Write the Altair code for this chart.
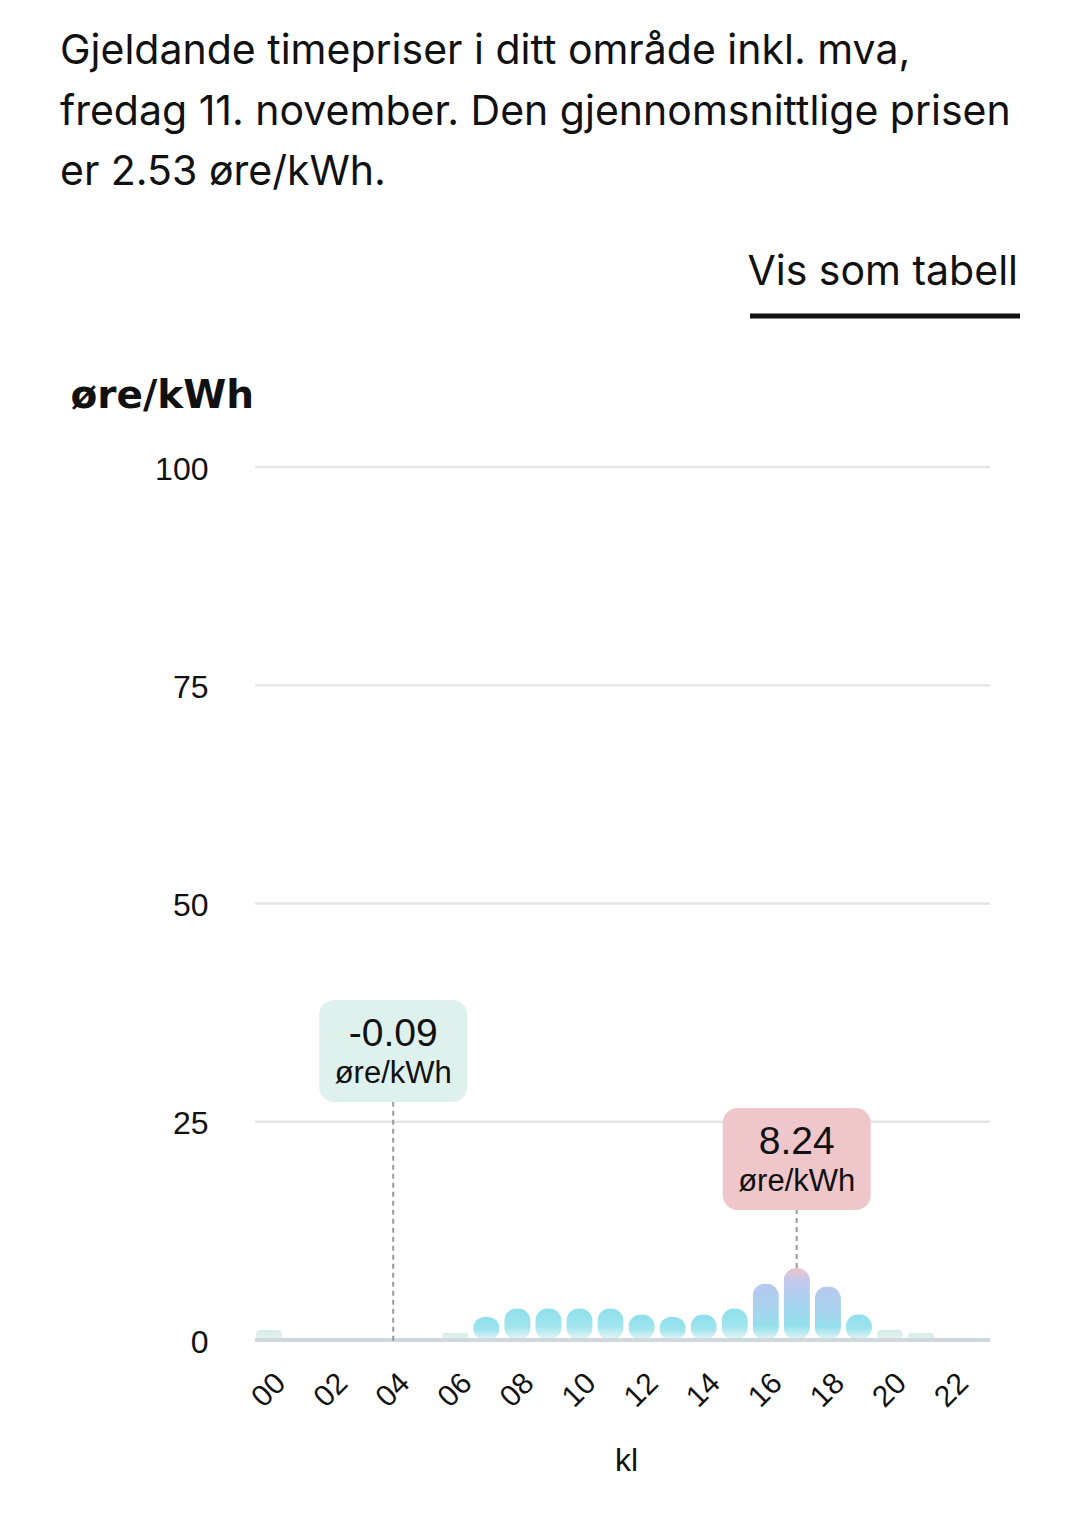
import altair as alt
import pandas as pd

hours = [f"{h:02d}" for h in range(24)]
prices = [1.18, 0.0, 0.0, 0.0, -0.09, 0.0, 0.86, 2.63, 3.65, 3.65, 3.65, 3.65,
          2.94, 2.63, 2.94, 3.65, 6.47, 8.24, 6.16, 2.94, 1.18, 0.86, 0.0, 0.0]
x_tick_labels = ["00", "02", "04", "06", "08", "10", "12", "14", "16", "18", "20", "22"]
y_ticks = [0, 25, 50, 75, 100]
title_lines = [
    "Gjeldande timepriser i ditt område inkl. mva,",
    "fredag 11. november. Den gjennomsnittlige prisen",
    "er 2.53 øre/kWh.",
]
unit = "øre/kWh"
link_text = "Vis som tabell"

W, H = 735, 873
df = pd.DataFrame({"kl": hours, "pris": prices})

imin = prices.index(min(prices))
imax = prices.index(max(prices))
ann = pd.DataFrame({
    "kl": [hours[imin], hours[imax]],
    "pris": [prices[imin], prices[imax]],
    "txt": [f"{prices[imin]:.2f}", f"{prices[imax]:.2f}"],
    "kind": ["min", "max"],
})

xscale = alt.Scale(domain=hours, range=[-1.5, 743.5], paddingInner=0.15, paddingOuter=0.075)
yscale = alt.Scale(domain=[0, 100])

X = alt.X("kl:N", scale=xscale, sort=hours,
          axis=alt.Axis(values=x_tick_labels, labelAngle=315, labelAlign="center",
                        labelBaseline="middle", labelPadding=50, labelFontSize=30,
                        labelFont="Liberation Sans", labelColor="#111", ticks=False,
                        domain=False, grid=False,
                        title="kl", titleFont="Liberation Sans", titleFontSize=32,
                        titleFontWeight="normal", titleColor="#111", titleY=120,
                        titleBaseline="middle"))
y_axis = alt.Axis(values=y_ticks, labelFontSize=32, labelFont="Liberation Sans",
                  labelColor="#111", labelPadding=47, ticks=False, domain=False,
                  grid=False, labelBaseline="middle", labelOffset=2,
                  title=unit, titleAngle=0, titleAlign="left", titleBaseline="middle",
                  titleX=-185, titleY=-72, titleFont="DejaVu Sans",
                  titleFontSize=39, titleFontWeight="bold", titleColor="#111")
Y = alt.Y("pris:Q", scale=yscale, axis=y_axis)

def grad(stops):
    return alt.Gradient(gradient="linear", x1=0, x2=0, y1=0, y2=1,
                        stops=[alt.GradientStop(offset=o, color=c) for o, c in stops])

grid = alt.Chart(pd.DataFrame({"v": y_ticks})).mark_rule(color="#e6e6e6", strokeWidth=2.5).encode(
    y=alt.Y("v:Q", scale=yscale, axis=y_axis), x=alt.value(0), x2=alt.value(W))

base = alt.Chart(df).transform_joinaggregate(maks="max(pris)")

bar_kw = dict(cornerRadius=13)
pale = base.transform_filter("datum.pris > 0 && datum.pris < 2").mark_bar(
    color=grad([(0, "#d6ece8"), (1, "#e4f3f1")]), **bar_kw).encode(x=X, y=Y)
cyan = base.transform_filter("datum.pris >= 2 && datum.pris < 5").mark_bar(
    color=grad([(0, "#8edfec"), (0.55, "#9fe4ee"), (1, "#e6f5f4")]), **bar_kw).encode(x=X, y=Y)
blue = base.transform_filter("datum.pris >= 5 && datum.pris < datum.maks").mark_bar(
    color=grad([(0, "#b7c8ee"), (0.5, "#a6d5ee"), (0.75, "#93e0ec"), (1, "#e6f5f4")]), **bar_kw).encode(x=X, y=Y)
peak = base.transform_filter("datum.pris == datum.maks").mark_bar(
    color=grad([(0, "#eac3cd"), (0.2, "#bfc9ee"), (0.55, "#a2d6ee"), (0.8, "#94e0ec"), (1, "#e6f5f4")]),
    **bar_kw).encode(x=X, y=Y)

baseline = alt.Chart(pd.DataFrame({"v": [0]})).mark_rule(color="#cfd8dc", strokeWidth=4).encode(
    y=alt.Y("v:Q", scale=yscale, axis=y_axis), x=alt.value(0), x2=alt.value(W))

annb = alt.Chart(ann)
rule_min = annb.transform_filter("datum.kind == 'min'").mark_rule(
    color="#9a9a9a", strokeDash=[5, 4], strokeWidth=2).encode(x=X, y=Y, y2=alt.value(635))
rule_max = annb.transform_filter("datum.kind == 'max'").mark_rule(
    color="#9a9a9a", strokeDash=[5, 4], strokeWidth=2).encode(x=X, y=Y, y2=alt.value(743))
box_min = annb.transform_filter("datum.kind == 'min'").mark_rect(
    color="#dff1ec", cornerRadius=15, width=148).encode(x=X, y=alt.value(533), y2=alt.value(635))
box_max = annb.transform_filter("datum.kind == 'max'").mark_rect(
    color="#efc6c9", cornerRadius=15, width=148).encode(x=X, y=alt.value(641), y2=alt.value(743))
val_min = annb.transform_filter("datum.kind == 'min'").mark_text(
    font="Liberation Sans", fontSize=39, color="#111", baseline="middle").encode(
    x=X, y=alt.value(567), text="txt:N")
val_max = annb.transform_filter("datum.kind == 'max'").mark_text(
    font="Liberation Sans", fontSize=39, color="#111", baseline="middle").encode(
    x=X, y=alt.value(675), text="txt:N")
unit_min = annb.transform_filter("datum.kind == 'min'").mark_text(
    font="Liberation Sans", fontSize=31, color="#111", baseline="middle").encode(
    x=X, y=alt.value(607), text=alt.value(unit))
unit_max = annb.transform_filter("datum.kind == 'max'").mark_text(
    font="Liberation Sans", fontSize=31, color="#111", baseline="middle").encode(
    x=X, y=alt.value(715), text=alt.value(unit))

title = alt.Chart(pd.DataFrame({"t": ["\n".join(title_lines)]})).mark_text(
    font="Inter", fontSize=41, color="#111", align="left", baseline="middle",
    lineBreak="\n", lineHeight=60.5).encode(
    x=alt.value(-195), y=alt.value(-415), text="t:N")

link = alt.Chart(pd.DataFrame({"t": [link_text]})).mark_text(
    font="Inter", fontSize=41, color="#111", align="right", baseline="middle").encode(
    x=alt.value(763), y=alt.value(-194), text="t:N")
underline = alt.Chart(pd.DataFrame({"t": [link_text]})).mark_rule(
    color="#111", strokeWidth=5).encode(x=alt.value(495), x2=alt.value(765), y=alt.value(-151))

chart = alt.layer(
    grid, pale, cyan, blue, peak, baseline, rule_min, rule_max, box_min, box_max,
    val_min, val_max, unit_min, unit_max, title, link, underline
).properties(
    width=W, height=H,
    autosize=alt.AutoSizeParams(type="none"),
    padding={"left": 247, "top": 459, "right": 81, "bottom": 180},
).configure(background="white", view=alt.ViewConfig(stroke=None, strokeWidth=0))

chart.save("out.html", embed_options={"renderer": "svg", "actions": False})
